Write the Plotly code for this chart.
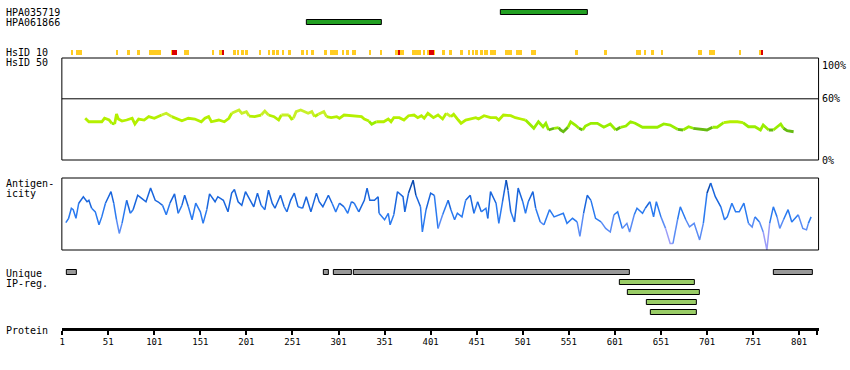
import plotly.graph_objects as go

W, H = 850, 370
FONT = "DejaVu Sans Mono"

# ---------------- data ----------------
protein_length = 820

ab_names = ["HPA035719", "HPA061866"]
ab_start = [477, 267]
ab_end = [572, 348]

hsid10_yellow_start = [11, 16, 20, 59, 72, 83, 95, 119, 133, 163, 171, 186, 191, 195, 199, 214, 225, 229,
                       234, 240, 246, 260, 266, 271, 286, 292, 305, 309, 316, 334, 346, 363, 368, 381, 393,
                       397, 404, 414, 421, 433, 441, 446, 449, 454, 459, 465, 469, 482, 494, 510, 558, 590,
                       624, 633, 640, 651, 691, 703, 736, 758]
hsid10_yellow_end = [13, 19, 22, 62, 74, 85, 108, 120, 139, 166, 174, 190, 193, 198, 203, 217, 227, 232,
                     236, 242, 249, 263, 268, 274, 288, 300, 307, 312, 320, 336, 348, 365, 372, 390, 395,
                     399, 405, 416, 424, 436, 444, 448, 452, 458, 463, 468, 472, 489, 500, 515, 561, 592,
                     629, 635, 643, 653, 695, 709, 738, 759]
hsid10_red_start = [120, 174, 365, 399, 759]
hsid10_red_end = [125, 177, 368, 404, 762]

hsid50_pos = [26, 30, 36, 44, 47, 52, 55, 58, 60, 62, 66, 71, 77, 80, 84, 90, 95, 101, 109, 114, 120, 125,
              131, 138, 145, 152, 156, 160, 163, 171, 177, 182, 185, 193, 196, 201, 204, 210, 217, 221, 225,
              231, 236, 239, 247, 250, 252, 255, 260, 264, 268, 272, 275, 279, 285, 288, 293, 299, 302, 307,
              313, 318, 326, 329, 334, 337, 342, 350, 355, 358, 361, 367, 372, 377, 383, 387, 391, 394, 398,
              404, 409, 414, 418, 423, 426, 431, 434, 439, 445, 450, 453, 459, 466, 472, 475, 480, 488, 493,
              499, 504, 510, 513, 518, 523, 526, 529, 535, 540, 542, 545, 550, 553, 558, 562, 566, 569, 575,
              582, 589, 596, 602, 607, 613, 618, 623, 631, 640, 647, 654, 661, 669, 675, 681, 686, 694, 701,
              707, 712, 719, 726, 734, 740, 746, 753, 759, 762, 768, 773, 781, 784, 788, 795]
hsid50_pct = [40.9, 37.5, 37.5, 37.5, 40.9, 39.2, 36.0, 35.3, 45.1, 40.2, 38.2, 39.2, 40.9, 35.3, 40.2, 39.2,
              42.5, 40.9, 44.1, 45.8, 42.5, 40.9, 38.5, 40.9, 40.2, 37.5, 40.9, 42.5, 37.5, 39.2, 37.5, 40.9,
              45.8, 49.0, 45.8, 47.4, 43.1, 42.5, 44.1, 48.0, 44.1, 42.5, 39.2, 44.1, 44.1, 40.2, 40.9, 47.4,
              49.0, 47.4, 45.8, 47.4, 42.5, 44.8, 47.4, 42.5, 41.5, 42.5, 40.9, 44.1, 43.4, 43.4, 42.5, 40.2,
              38.2, 35.0, 37.5, 37.5, 40.2, 37.5, 41.5, 41.5, 39.2, 43.4, 44.1, 41.5, 43.4, 40.9, 45.8, 41.5,
              44.1, 40.2, 45.8, 42.5, 44.8, 39.2, 36.0, 39.2, 40.2, 41.5, 40.2, 43.4, 41.5, 41.5, 39.2, 44.1,
              43.4, 41.5, 40.2, 39.2, 34.3, 31.1, 37.5, 32.6, 36.0, 29.4, 31.1, 31.7, 29.4, 27.7, 32.1, 37.5,
              34.3, 31.1, 29.4, 33.3, 36.0, 36.0, 32.1, 35.3, 29.4, 32.1, 33.3, 37.5, 36.0, 32.1, 32.1, 32.1,
              35.3, 34.3, 30.1, 29.4, 32.6, 31.1, 30.1, 29.4, 32.1, 32.1, 36.6, 37.5, 37.5, 36.6, 32.6, 32.6,
              29.4, 34.3, 29.4, 29.4, 35.3, 31.1, 28.7, 27.7]

antigen_pos = [5, 8, 11, 13, 16, 19, 24, 28, 30, 33, 37, 41, 44, 48, 54, 57, 60, 63, 66, 71, 75, 78, 83, 87,
               92, 97, 102, 105, 110, 114, 118, 123, 127, 131, 134, 138, 142, 146, 151, 154, 158, 161, 167,
               170, 176, 181, 185, 188, 192, 196, 200, 205, 209, 213, 217, 221, 225, 229, 232, 238, 242, 245,
               249, 253, 257, 262, 266, 271, 277, 280, 284, 290, 294, 298, 302, 307, 311, 315, 318, 323, 329,
               332, 335, 340, 344, 345, 351, 355, 357, 361, 365, 371, 373, 377, 382, 385, 390, 392, 396, 401,
               405, 409, 414, 420, 423, 427, 430, 435, 439, 444, 448, 452, 456, 461, 463, 466, 472, 475, 479,
               483, 485, 488, 492, 496, 501, 504, 507, 512, 515, 520, 524, 530, 535, 540, 545, 549, 555, 560,
               563, 567, 571, 575, 580, 586, 591, 596, 600, 604, 609, 614, 617, 622, 625, 631, 634, 639, 643,
               646, 651, 656, 661, 664, 669, 672, 678, 682, 687, 693, 697, 701, 705, 710, 716, 720, 723, 728,
               732, 736, 741, 746, 750, 753, 758, 762, 766, 769, 773, 777, 780, 784, 789, 793, 797, 800, 805,
               809, 811, 814]
antigen_score = [38, 44, 58, 56, 44, 65, 74, 67, 69, 58, 53, 35, 46, 65, 81, 65, 42, 23, 37, 69, 51, 56, 76,
                 72, 67, 86, 69, 67, 62, 49, 65, 78, 51, 62, 76, 60, 42, 65, 53, 37, 56, 78, 67, 74, 69, 53,
                 79, 84, 67, 62, 81, 69, 60, 79, 62, 56, 83, 65, 58, 76, 60, 53, 69, 79, 60, 58, 74, 53, 79,
                 67, 60, 76, 65, 53, 65, 60, 51, 67, 65, 53, 69, 86, 69, 69, 74, 51, 42, 51, 35, 49, 81, 74,
                 53, 79, 97, 76, 60, 25, 56, 79, 76, 30, 49, 69, 56, 42, 51, 46, 69, 76, 51, 67, 53, 58, 44,
                 81, 65, 37, 67, 97, 83, 53, 39, 86, 67, 51, 67, 81, 58, 39, 35, 56, 46, 49, 51, 37, 44, 39,
                 19, 51, 76, 69, 44, 39, 30, 25, 49, 53, 30, 37, 25, 49, 58, 51, 58, 67, 46, 67, 46, 30, 9,
                 9, 42, 60, 42, 32, 37, 14, 37, 79, 93, 74, 60, 42, 46, 65, 53, 53, 65, 37, 32, 46, 39, 25,
                 0, 37, 60, 46, 30, 42, 56, 39, 44, 49, 30, 28, 37, 46]

unique_start = [6, 285, 296, 318, 774]
unique_end = [17, 290, 315, 617, 816]

ipreg_start = [606, 615, 636, 640]
ipreg_end = [688, 693, 690, 690]

tick_vals = [1, 51, 101, 151, 201, 251, 301, 351, 401, 451, 501, 551, 601, 651, 701, 751, 801]
tick_text = [str(v) for v in tick_vals]

# ---------------- layout helpers (pixel rows on track axis) ----------------
ab_rows = [12.5, 22.5]
hsid10_row = 52.5
unique_row = 272.5
ipreg_rows = [282.5, 292.5, 302.5, 312.5]


def py(p):
    return 1 - p / H


fig = go.Figure()


def hbar(starts, ends, row, color, width, outline=True, name=""):
    fig.add_trace(go.Bar(
        orientation="h", base=starts, x=[e - s for s, e in zip(starts, ends)],
        y=[row] * len(starts), width=width, xaxis="x", yaxis="y",
        marker=dict(color=color, line=dict(color="black", width=1 if outline else 0)),
        showlegend=False, hoverinfo="skip", name=name))


# antibodies
for i in range(len(ab_names)):
    hbar([ab_start[i]], [ab_end[i]], ab_rows[i], "#22a022", 4.4)

# HsID 10
hbar(hsid10_yellow_start, hsid10_yellow_end, hsid10_row, "#ffcc22", 5, outline=False)
hbar(hsid10_red_start, hsid10_red_end, hsid10_row, "#dd0000", 5, outline=False)

# unique + IP regions
hbar(unique_start, unique_end, unique_row, "#999999", 4.4)
for i in range(len(ipreg_start)):
    hbar([ipreg_start[i]], [ipreg_end[i]], ipreg_rows[i], "#99cc66", 4.4)


def add_colored_line(xs, ys, color_fn, yaxis, width):
    runs = []
    cur = None
    for i in range(len(xs) - 1):
        c = color_fn((ys[i] + ys[i + 1]) / 2)
        if cur is None or cur[0] != c:
            cur = [c, [xs[i]], [ys[i]]]
            runs.append(cur)
        cur[1].append(xs[i + 1])
        cur[2].append(ys[i + 1])
    for c, rx, ry in runs:
        fig.add_trace(go.Scatter(x=rx, y=ry, mode="lines", xaxis="x", yaxis=yaxis,
                                 line=dict(color=c, width=width), showlegend=False, hoverinfo="skip"))


def hsid_color(v):
    if v >= 44:
        return "#c8f028"
    if v >= 37:
        return "#b4f000"
    if v >= 31:
        return "#99ee00"
    return "#66bb11"


def antigen_color(v):
    if v >= 85:
        return "#0a4ab0"
    if v >= 60:
        return "#1a66dd"
    if v >= 40:
        return "#2a7af0"
    if v >= 25:
        return "#5a8cf5"
    return "#9a9cf8"


add_colored_line(hsid50_pos, hsid50_pct, hsid_color, "y2", 2.8)
add_colored_line(antigen_pos, antigen_score, antigen_color, "y3", 1.5)

# invisible trace to keep the protein-axis subplot
fig.add_trace(go.Scatter(x=[1, protein_length], y=[0, 0], mode="lines", xaxis="x", yaxis="y4",
                         line=dict(width=0), showlegend=False, hoverinfo="skip"))

xdom = [60 / W, 818.5 / W]
fig.update_layout(
    width=W, height=H, margin=dict(l=0, r=0, t=0, b=0),
    paper_bgcolor="white", plot_bgcolor="rgba(0,0,0,0)",
    barmode="overlay", bargap=0,
    font=dict(family=FONT, size=10, color="black"),
    xaxis=dict(domain=xdom, range=[0.68, 822.1], anchor="y4", showgrid=False, zeroline=False,
               showline=True, linewidth=3, linecolor="black",
               tickmode="array", tickvals=tick_vals + [protein_length], ticktext=tick_text + [""],
               ticks="outside", ticklen=4, tickwidth=2, tickcolor="black",
               tickfont=dict(family=FONT, size=9, color="black")),
    yaxis=dict(domain=[0, 1], range=[H, 0], anchor="x", visible=False, fixedrange=True),
    yaxis2=dict(domain=[py(160), py(58)], range=[0, 100], anchor="x", visible=False),
    yaxis3=dict(domain=[py(250), py(178)], range=[0, 100], anchor="x", visible=False),
    yaxis4=dict(domain=[py(327.5), py(320)], range=[0, 1], anchor="x", visible=False),
)

shapes = [
    dict(type="rect", xref="x domain", yref="y2 domain", x0=0, x1=1, y0=0, y1=1,
         line=dict(color="black", width=1)),
    dict(type="line", xref="x domain", yref="y2", x0=0, x1=1, y0=60, y1=60,
         line=dict(color="black", width=1)),
    dict(type="rect", xref="x domain", yref="y3 domain", x0=0, x1=1, y0=0, y1=1,
         line=dict(color="black", width=1)),
]
fig.update_layout(shapes=shapes)

ann = []


def left_label(text, ypx):
    ann.append(dict(text=text, xref="paper", yref="paper", x=2 / W, y=py(ypx), xanchor="left",
                    yanchor="middle", showarrow=False, font=dict(family=FONT, size=10, color="black")))


for i, n in enumerate(ab_names):
    left_label(n, ab_rows[i])
left_label("HsID 10", 52.5)
left_label("HsID 50", 62.5)
left_label("Antigen-", 183)
left_label("icity", 193)
left_label("Unique", 273)
left_label("IP-reg.", 283)
left_label("Protein", 330)

for txt, yv, anc in [("100%", 100, "top"), ("60%", 60, "middle"), ("0%", 0, "middle")]:
    ann.append(dict(text=txt, xref="paper", yref="y2", x=820 / W, y=yv, xanchor="left", yanchor=anc,
                    showarrow=False, font=dict(family=FONT, size=10, color="black")))

fig.update_layout(annotations=ann)

fig.write_html("out.html", config={"displayModeBar": False},
               post_script="document.body.style.margin='0';document.body.style.overflow='hidden';")
